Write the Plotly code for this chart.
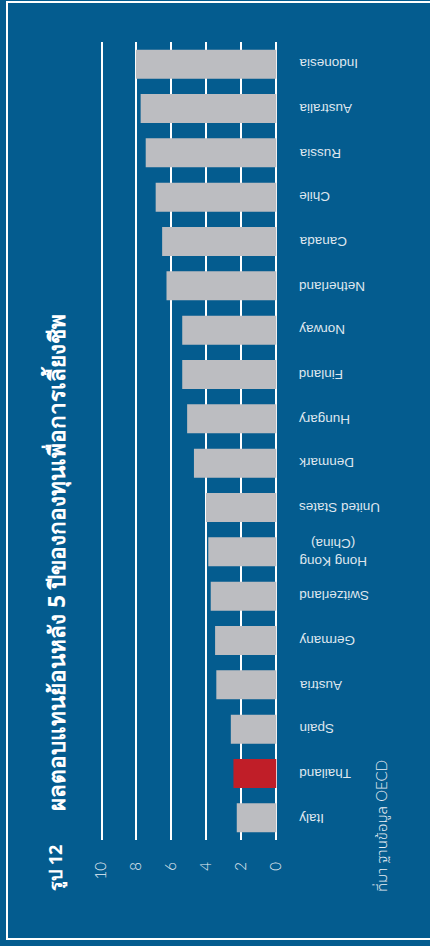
import plotly.graph_objects as go

# Five-year returns of provident funds, %, listed bottom to top
countries = [
    "Italy", "Thailand", "Spain", "Austria", "Germany", "Switzerland",
    "Hong Kong<br>(China)", "United States", "Denmark", "Hungary", "Finland",
    "Norway", "Netherland", "Canada", "Chile", "Russia", "Australia", "Indonesia",
]
returns = [
    2.26, 2.45, 2.6, 3.43, 3.5, 3.75,
    3.89, 4.02, 4.71, 5.1, 5.38,
    5.38, 6.28, 6.53, 6.9, 7.47, 7.76, 8.03,
]
highlight = "Thailand"
value_ticks = [0, 2, 4, 6, 8, 10]

title_no = "รูป 12"
title_text = "ผลตอบแทนย้อนหลัง 5 ปีของกองทุนเพื่อการเลี้ยงชีพ"
source_text = "ที่มา ฐานข้อมูล OECD"

BG = "#045c8f"
BAR = "#bcbdc1"
RED = "#c01e28"

W, H = 430, 946
L, T = 98, 42
PW, PH = 180, 798


def px_x(px):
    return (px - L) / PW


def px_y(py):
    return (T + PH - py) / PH


colors = [RED if c == highlight else BAR for c in countries]

fig = go.Figure(
    go.Bar(
        x=returns,
        y=countries,
        orientation="h",
        marker=dict(color=colors, line=dict(width=0)),
        hoverinfo="skip",
    )
)

fig.update_layout(
    width=W,
    height=H,
    margin=dict(l=L, r=W - L - PW, t=T, b=H - T - PH, pad=0),
    paper_bgcolor=BG,
    plot_bgcolor=BG,
    bargap=0.345,
    showlegend=False,
    font=dict(family="Liberation Sans, Arial, sans-serif", color="white"),
)

fig.update_xaxes(
    range=[10.2, -0.1],
    tickvals=value_ticks,
    ticktext=[str(v) for v in value_ticks],
    tickangle=-90,
    showgrid=True,
    gridcolor="white",
    gridwidth=1.5,
    zeroline=True,
    zerolinecolor="white",
    zerolinewidth=1.5,
    showline=False,
    ticks="",
    ticklabelstandoff=18,
    tickfont=dict(family="Lato, Liberation Sans, sans-serif", size=15,
                  color="#e8eef4", weight=300),
)

# Category names are drawn upside down beside the axis, left-aligned
fig.update_yaxes(
    type="category",
    categoryorder="array",
    categoryarray=countries,
    showticklabels=False,
    showgrid=False,
    zeroline=False,
    showline=False,
    ticks="",
)
for name in countries:
    fig.add_annotation(
        text=name, xref="paper", yref="y",
        x=px_x(297), y=name, xanchor="left", yanchor="middle",
        textangle=180, showarrow=False,
        font=dict(family="Liberation Sans Narrow, Liberation Sans, sans-serif",
                  size=13.5, color="#dfe6ee"),
    )

# White frame around the figure
fig.add_shape(
    type="rect", xref="paper", yref="paper",
    x0=px_x(7), x1=px_x(445), y0=px_y(939), y1=px_y(2),
    line=dict(color="white", width=2), fillcolor="rgba(0,0,0,0)",
    layer="below",
)

fig.add_annotation(
    text=f"<b>{title_no}</b>", xref="paper", yref="paper",
    x=px_x(55), y=px_y(893), xanchor="center", yanchor="bottom",
    textangle=-90, showarrow=False,
    font=dict(size=18, color="white", family="Noto Sans, Liberation Sans, sans-serif"),
)
fig.add_annotation(
    text=f"<b>{title_text}</b>", xref="paper", yref="paper",
    x=px_x(55), y=px_y(813), xanchor="center", yanchor="bottom",
    textangle=-90, showarrow=False,
    font=dict(size=22.5, color="white", family="Noto Sans, Liberation Sans, sans-serif"),
)
fig.add_annotation(
    text=source_text, xref="paper", yref="paper",
    x=px_x(381), y=px_y(894), xanchor="center", yanchor="bottom",
    textangle=-90, showarrow=False,
    font=dict(size=15, color="#e8eef4", weight=300,
              family="Lato, Noto Sans Thai, Noto Looped Thai, Liberation Sans, sans-serif"),
)

fig.write_html("out.html")
